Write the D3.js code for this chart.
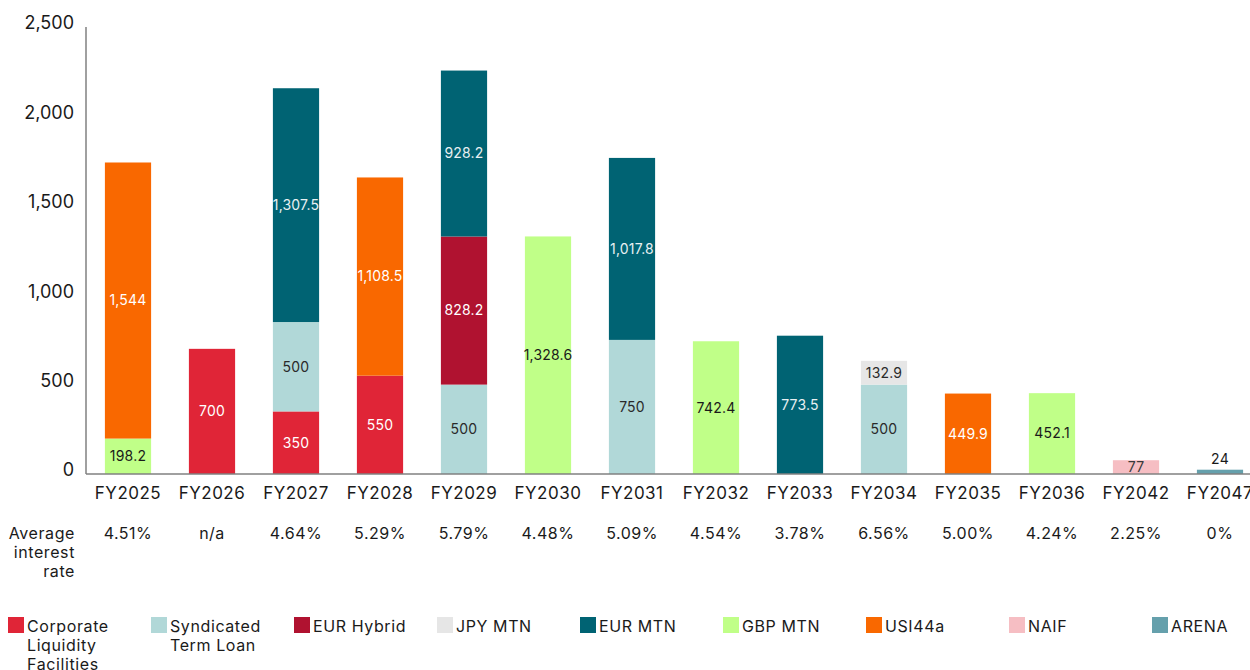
<!DOCTYPE html>
<html>
<head>
<meta charset="utf-8">
<script src="https://cdn.jsdelivr.net/npm/d3@7"></script>
<style>
  body { margin: 0; background: #fff; }
  text { font-family: Inter, "Noto Sans", sans-serif; }
</style>
</head>
<body>
<svg></svg>
<script>
var width = 1250;
var height = 670;

// data
var years = ["FY2025","FY2026","FY2027","FY2028","FY2029","FY2030","FY2031","FY2032","FY2033","FY2034","FY2035","FY2036","FY2042","FY2047"];
var rates = ["4.51%","n/a","4.64%","5.29%","5.79%","4.48%","5.09%","4.54%","3.78%","6.56%","5.00%","4.24%","2.25%","0%"];
var series = ["Corporate Liquidity Facilities","Syndicated Term Loan","EUR Hybrid","JPY MTN","EUR MTN","GBP MTN","USI44a","NAIF","ARENA"];
var corporateLiquidity = [0, 700, 350, 550, 0, 0, 0, 0, 0, 0, 0, 0, 0, 0];
var syndicatedTermLoan = [0, 0, 500, 0, 500, 0, 750, 0, 0, 500, 0, 0, 0, 0];
var eurHybrid          = [0, 0, 0, 0, 828.2, 0, 0, 0, 0, 0, 0, 0, 0, 0];
var jpyMtn             = [0, 0, 0, 0, 0, 0, 0, 0, 0, 132.9, 0, 0, 0, 0];
var eurMtn             = [0, 0, 1307.5, 0, 928.2, 0, 1017.8, 0, 773.5, 0, 0, 0, 0, 0];
var gbpMtn             = [198.2, 0, 0, 0, 0, 1328.6, 0, 742.4, 0, 0, 0, 452.1, 0, 0];
var usi44a             = [1544, 0, 0, 1108.5, 0, 0, 0, 0, 0, 0, 449.9, 0, 0, 0];
var naif               = [0, 0, 0, 0, 0, 0, 0, 0, 0, 0, 0, 0, 77, 0];
var arena              = [0, 0, 0, 0, 0, 0, 0, 0, 0, 0, 0, 0, 0, 24];
var yTicks = [0, 500, 1000, 1500, 2000, 2500];

var seriesValues = [corporateLiquidity, syndicatedTermLoan, eurHybrid, jpyMtn, eurMtn, gbpMtn, usi44a, naif, arena];
var colors = ["#e02537", "#b1d8d8", "#b01230", "#e6e6e6", "#006373", "#c0ff88", "#f96800", "#f6bec3", "#65a0ac"];
var labelColors = ["#fff", "#2a2a2a", "#fff", "#2a2a2a", "#e8f0f2", "#1a1a1a", "#fff", "#3a3a3a", "#1a1a1a"];
var legendLines = [["Corporate","Liquidity","Facilities"],["Syndicated","Term Loan"],["EUR Hybrid"],["JPY MTN"],["EUR MTN"],["GBP MTN"],["USI44a"],["NAIF"],["ARENA"]];

var table = years.map((y, i) => {
    var row = {year: y};
    series.forEach((s, j) => row[s] = seriesValues[j][i]);
    return row;
});

var svg = d3.select("svg")
    .attr("width", width)
    .attr("height", height);

var x = d3.scaleBand()
    .domain(years)
    .range([86, 1262])
    .paddingInner(0.45)
    .paddingOuter(0.225);

var y = d3.scaleLinear()
    .domain([0, 2500])
    .range([474, 27]);

var stacked = d3.stack().keys(series)(table);

var layers = svg.selectAll(".layer")
    .data(stacked)
    .enter()
    .append("g")
        .attr("fill", (d, i) => colors[i]);

layers.selectAll("rect")
    .data(d => d.filter(p => p[1] - p[0] > 0))
    .enter()
    .append("rect")
        .attr("x", d => x(d.data.year))
        .attr("width", x.bandwidth())
        .attr("y", d => y(d[1]))
        .attr("height", d => y(d[0]) - y(d[1]));

// segment labels
stacked.forEach((layer, i) => {
    layer.filter(p => p[1] - p[0] > 0).forEach(p => {
        var v = p[1] - p[0];
        var h = y(p[0]) - y(p[1]);
        var ly = h < 10 ? y(p[1]) - 11 : (y(p[0]) + y(p[1])) / 2;
        svg.append("text")
            .attr("x", x(p.data.year) + x.bandwidth() / 2)
            .attr("y", ly)
            .attr("dy", "0.35em")
            .attr("text-anchor", "middle")
            .style("font-size", "14px")
            .style("letter-spacing", "0.2px")
            .attr("fill", h < 10 ? "#1a1a1a" : labelColors[i])
            .text(d3.format(",")(v));
    });
});

// axes
svg.append("line")
    .attr("x1", 86).attr("x2", 86)
    .attr("y1", y(2500)).attr("y2", y(0))
    .attr("stroke", "#808080").attr("stroke-width", 1.5);
svg.append("line")
    .attr("x1", 86).attr("x2", width)
    .attr("y1", y(0)).attr("y2", y(0))
    .attr("stroke", "#808080").attr("stroke-width", 1.5);

svg.selectAll(".ytick")
    .data(yTicks)
    .enter()
    .append("text")
        .attr("x", 74)
        .attr("y", d => y(d) - 4)
        .attr("dy", "0.35em")
        .attr("text-anchor", "end")
        .attr("fill", "#1a1a1a")
        .style("font-size", "18px")
        .text(d => d3.format(",")(d));

svg.selectAll(".xtick")
    .data(years)
    .enter()
    .append("text")
        .attr("x", d => x(d) + x.bandwidth() / 2)
        .attr("y", 493)
        .attr("dy", "0.35em")
        .attr("text-anchor", "middle")
        .attr("fill", "#1a1a1a")
        .style("font-size", "17px")
        .style("letter-spacing", "0.5px")
        .text(d => d);

svg.selectAll(".rate")
    .data(rates)
    .enter()
    .append("text")
        .attr("x", (d, i) => x(years[i]) + x.bandwidth() / 2)
        .attr("y", 533)
        .attr("dy", "0.35em")
        .attr("text-anchor", "middle")
        .attr("fill", "#1a1a1a")
        .style("font-size", "16px")
        .style("letter-spacing", "0.5px")
        .text(d => d);

["Average", "interest", "rate"].forEach((t, i) => {
    svg.append("text")
        .attr("x", 75)
        .attr("y", 533 + i * 19)
        .attr("dy", "0.35em")
        .attr("text-anchor", "end")
        .attr("fill", "#1a1a1a")
        .style("font-size", "16px")
        .style("letter-spacing", "0.6px")
        .text(t);
});

// legend
var legend = svg.selectAll(".legend")
    .data(series)
    .enter()
    .append("g")
        .attr("transform", (d, i) => `translate(${8 + i * 143}, 617)`);

legend.append("rect")
    .attr("width", 16)
    .attr("height", 16)
    .attr("fill", (d, i) => colors[i]);

legend.each(function(d, i) {
    d3.select(this).selectAll("text")
        .data(legendLines[i])
        .enter()
        .append("text")
            .attr("x", 19)
            .attr("y", (t, k) => 9 + k * 19)
            .attr("dy", "0.35em")
            .attr("fill", "#1a1a1a")
            .style("font-size", "16px")
            .style("letter-spacing", "0.6px")
            .text(t => t);
});
</script>
</body>
</html>
